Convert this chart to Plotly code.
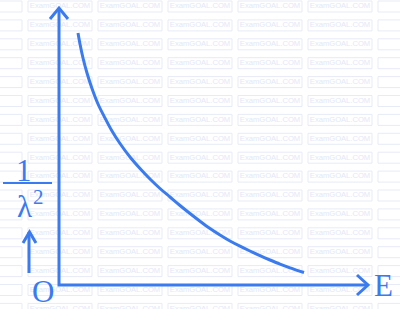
import plotly.graph_objects as go

# Curve data (E, 1/lambda^2) in arbitrary units, origin at axes corner
E_vals = [19, 21, 24, 28, 33, 39, 46, 53, 61, 71, 81, 91, 101, 111, 121, 131, 141, 151, 161, 171, 181, 191, 201, 211, 221, 231, 245]
Y_vals = [252, 241, 227, 212, 196.5, 181, 167, 154, 141.5, 128, 116.5, 106, 96.5, 88, 79.5, 71.5, 63.8, 56.5, 50, 44, 38.8, 34, 29.3, 25, 20.9, 17.2, 12.5]

x_axis_end = 309
y_axis_end = 277

BLUE = "#3a7bef"
WM_TXT = "#e3e8f6"
WM_BOX = "#e7ebf7"

fig = go.Figure()

# watermark (layout decoration)
shapes = []
wx, wy = [], []
for r in range(-1, 17):
    py = 6.5 + 18.9 * r
    for c in range(-1, 6):
        px = 270 + 70 * (c - 3)
        cx, cy = px - 59, 285 - py
        wx.append(cx)
        wy.append(cy)
        shapes.append(dict(type="rect", xref="x", yref="y", x0=cx - 32, x1=cx + 32, y0=cy - 5.5, y1=cy + 5.5,
                           line=dict(color=WM_BOX, width=1), layer="below"))
fig.add_trace(go.Scatter(x=wx, y=wy, mode="text", text=["ExamGOAL.COM"] * len(wx),
                         textfont=dict(family="Arial", size=7.6, color=WM_TXT), hoverinfo="skip",
                         cliponaxis=False))

# curve
fig.add_trace(go.Scatter(x=E_vals, y=Y_vals, mode="lines", line=dict(color=BLUE, width=3, shape="spline"),
                         hoverinfo="skip"))
# axes
fig.add_trace(go.Scatter(x=[0, 0, x_axis_end], y=[y_axis_end, 0, 0], mode="lines",
                         line=dict(color=BLUE, width=3), hoverinfo="skip"))
# arrowheads
fig.add_trace(go.Scatter(x=[-9, 0, 9], y=[y_axis_end - 11, y_axis_end, y_axis_end - 11], mode="lines",
                         line=dict(color=BLUE, width=3), hoverinfo="skip"))
fig.add_trace(go.Scatter(x=[x_axis_end - 11, x_axis_end, x_axis_end - 11], y=[10, 0, -10], mode="lines",
                         line=dict(color=BLUE, width=3), hoverinfo="skip"))
# label up-arrow
fig.add_trace(go.Scatter(x=[29 - 59, 29 - 59], y=[285 - 273, 285 - 232], mode="lines",
                         line=dict(color=BLUE, width=3), hoverinfo="skip"))
fig.add_trace(go.Scatter(x=[23 - 59, 29.5 - 59, 36 - 59], y=[285 - 243, 285 - 232, 285 - 243], mode="lines",
                         line=dict(color=BLUE, width=3), hoverinfo="skip"))
# fraction bar
fig.add_trace(go.Scatter(x=[3 - 59, 52 - 59], y=[285 - 183, 285 - 183], mode="lines",
                         line=dict(color=BLUE, width=2), hoverinfo="skip"))

SERIF = "Liberation Serif"
def lab(txt, px, py, size):
    return dict(x=px - 59, y=285 - py, xref="x", yref="y", text=txt, showarrow=False,
                font=dict(family=SERIF, size=size, color=BLUE), xanchor="center", yanchor="middle")

ann = [
    lab("1", 24, 170, 31),
    lab("λ", 24, 206, 31),
    lab("2", 38, 197, 21),
    lab("O", 43, 291, 31),
    lab("E", 383, 285, 31),
]

fig.update_layout(
    width=400, height=309, margin=dict(l=0, r=0, t=0, b=0),
    paper_bgcolor="white", plot_bgcolor="white", showlegend=False,
    xaxis=dict(range=[-59, 341], visible=False, fixedrange=True),
    yaxis=dict(range=[-24, 285], visible=False, fixedrange=True),
    annotations=ann, shapes=shapes,
)

fig.write_html("out.html")
